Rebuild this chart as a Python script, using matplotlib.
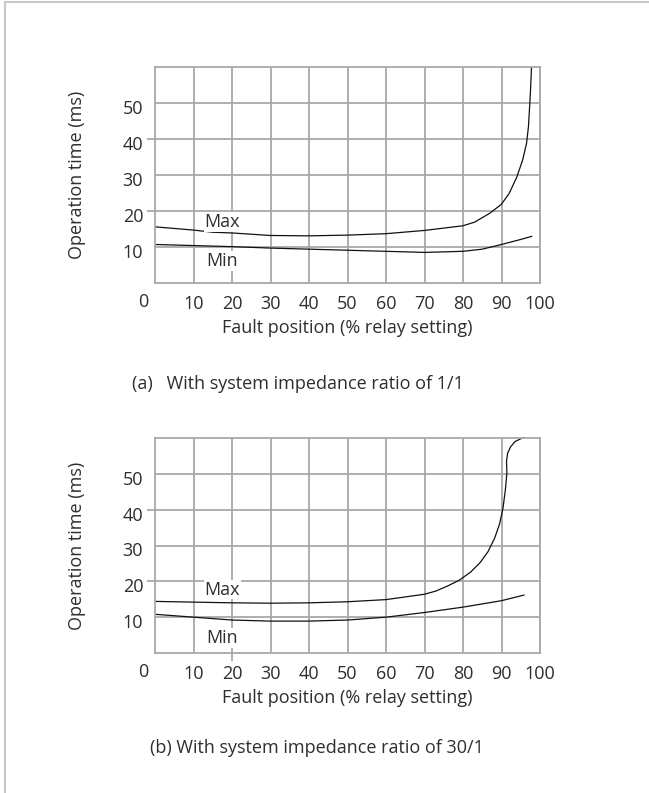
import matplotlib
matplotlib.use("Agg")
import matplotlib.pyplot as plt
import matplotlib.transforms as mtransforms
from matplotlib.lines import Line2D

plt.rcParams['font.family'] = ['Open Sans', 'DejaVu Sans']

# ---------------- data ----------------
x_ticks = [10, 20, 30, 40, 50, 60, 70, 80, 90, 100]
y_ticks = [10, 20, 30, 40, 50]

# (a) system impedance ratio 1/1
a_max_x = [0, 10, 15, 20, 30, 40, 50, 60, 70, 80, 83, 87, 90, 92, 94, 95.5, 96.5, 97, 97.5, 97.8]
a_max_y = [15.6, 14.7, 14.1, 13.9, 13.2, 13.1, 13.3, 13.7, 14.6, 15.9, 16.9, 19.4, 21.9, 24.9, 29.5, 34.2, 38.8, 43.4, 52.7, 60.0]
a_min_x = [0, 10, 20, 30, 40, 50, 60, 70, 80, 85, 90, 95, 98]
a_min_y = [10.7, 10.4, 10.1, 9.7, 9.4, 9.1, 8.8, 8.5, 8.8, 9.4, 10.7, 12.1, 13.0]

# (b) system impedance ratio 30/1
b_max_x = [0, 10, 20, 30, 40, 50, 60, 70, 73, 76, 79, 82, 84.5, 86.5, 88.2, 89.5, 90.4, 91.0, 91.4, 91.3, 91.6, 92.4, 93.5, 95.8]
b_max_y = [14.4, 14.2, 14.0, 13.9, 14.0, 14.3, 14.9, 16.4, 17.3, 18.7, 20.3, 22.6, 25.3, 28.3, 32.0, 36.0, 40.5, 45.5, 50.2, 53.5, 55.8, 57.6, 59.0, 60.2]
b_min_x = [0, 10, 20, 30, 40, 50, 60, 70, 80, 90, 96]
b_min_y = [10.8, 10.0, 9.2, 8.9, 8.9, 9.2, 10.0, 11.3, 12.8, 14.6, 16.2]

x_label = "Fault position (% relay setting)"
y_label = "Operation time (ms)"
caption_a = "(a)   With system impedance ratio of 1/1"
caption_b = "(b) With system impedance ratio of 30/1"

TXT = '#2e2e2e'
GRID = '#a8a8a8'
FS = 13
W, H = 649, 793

fig = plt.figure(figsize=(W / 100, H / 100), dpi=100)

# outer frame (top & left only)
fig.add_artist(Line2D([5 / W, 5 / W], [0, 1 - 2 / H], transform=fig.transFigure, color='#c8c8c8', lw=1.5))
fig.add_artist(Line2D([5 / W, 1], [1 - 2 / H, 1 - 2 / H], transform=fig.transFigure, color='#c8c8c8', lw=1.5))


def make_panel(rect, mx, my, nx, ny, max_pos, min_pos, long_yticks, long_xticks):
    ax = fig.add_axes(rect)
    ax.set_xlim(0, 100)
    ax.set_ylim(0, 60)
    for s in ax.spines.values():
        s.set_color(GRID)
        s.set_linewidth(1.3)
    ax.set_xticks(x_ticks)
    ax.set_yticks(y_ticks)
    ax.set_xticklabels([str(v) for v in x_ticks])
    ax.set_yticklabels([str(v) for v in y_ticks])
    ax.grid(True, color=GRID, lw=1.3)
    ax.set_axisbelow(True)
    ax.tick_params(axis='both', length=0, labelsize=FS, labelcolor=TXT, colors=GRID, width=1.3)
    ax.tick_params(axis='x', pad=8.5)
    ax.tick_params(axis='y', pad=8.5)
    for t in ax.yaxis.get_major_ticks():
        if t.get_loc() in long_yticks:
            t.tick1line.set_markersize(6)
    for t in ax.xaxis.get_major_ticks():
        if t.get_loc() in long_xticks:
            t.tick1line.set_markersize(6)
    off = mtransforms.ScaledTranslation(0, -4 / 100, fig.dpi_scale_trans)
    for lab in ax.get_yticklabels():
        lab.set_transform(lab.get_transform() + off)
    # corner zero
    ax.text(-12 / 3.85, 0, "0", ha='center', va='center', fontsize=FS, color=TXT,
            transform=ax.transData + mtransforms.ScaledTranslation(0, -19 / 100, fig.dpi_scale_trans))

    ax.plot(mx, my, color='#111111', lw=0.9, clip_on=False, solid_capstyle='butt')
    ax.plot(nx, ny, color='#111111', lw=0.9, clip_on=False, solid_capstyle='butt')
    ax.text(max_pos[0], max_pos[1], "Max", ha='center', va='center', fontsize=FS, color=TXT,
            bbox=dict(facecolor='white', edgecolor='none', pad=0.5))
    ax.text(min_pos[0], min_pos[1], "Min", ha='center', va='center', fontsize=FS, color=TXT,
            bbox=dict(facecolor='white', edgecolor='none', pad=0.5))
    ax.set_xlabel(x_label, fontsize=FS, color=TXT, va='center')
    ax.xaxis.set_label_coords(0.5, -45 / (rect[3] * H))
    ax.set_ylabel(y_label, fontsize=FS, color=TXT, va='center')
    ax.yaxis.set_label_coords(-78 / 385, 0.5)
    return ax


ax_a = make_panel([155 / W, 1 - 283 / H, 385 / W, 216 / H],
                  a_max_x, a_max_y, a_min_x, a_min_y, (17.4, 17.0), (17.4, 6.1), [20, 40], [])
ax_b = make_panel([155 / W, 1 - 653 / H, 385 / W, 215 / H],
                  b_max_x, b_max_y, b_min_x, b_min_y, (17.5, 17.7), (17.4, 4.2), [20, 40], [20])

fig.text(132 / W, 1 - 384 / H, caption_a, ha='left', va='center', fontsize=FS, color=TXT)
fig.text(150 / W, 1 - 748 / H, caption_b, ha='left', va='center', fontsize=FS, color=TXT)

fig.savefig("out.png", dpi=100, facecolor='white')
